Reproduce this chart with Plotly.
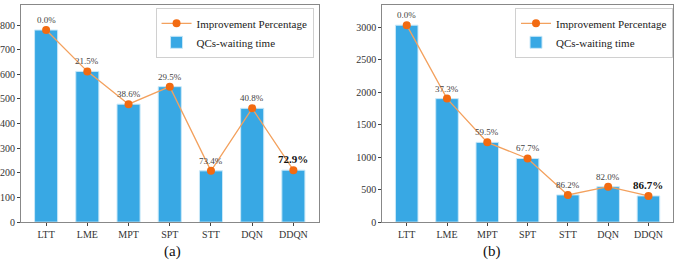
import plotly.graph_objects as go

categories = ["LTT", "LME", "MPT", "SPT", "STT", "DQN", "DDQN"]
wait_a = [780, 612, 479, 550, 208, 462, 211]
pct_a = ["0.0%", "21.5%", "38.6%", "29.5%", "73.4%", "40.8%", "72.9%"]
wait_b = [3030, 1900, 1227, 979, 418, 545, 403]
pct_b = ["0.0%", "37.3%", "59.5%", "67.7%", "86.2%", "82.0%", "86.7%"]
yticks_a = [0, 100, 200, 300, 400, 500, 600, 700, 800]
yticks_b = [0, 500, 1000, 1500, 2000, 2500, 3000]

BAR = "#38a8e4"
LINE = "#f3a15e"
MARK = "#f26b12"
FONT = "Liberation Serif, Times New Roman, serif"
W, H = 685, 278

fig = go.Figure()

panels = [
    ("x", "y", wait_a, pct_a, "legend"),
    ("x2", "y2", wait_b, pct_b, "legend2"),
]
for xa, ya, vals, pct, leg in panels:
    fig.add_trace(go.Scatter(
        x=categories, y=vals, xaxis=xa, yaxis=ya, mode="lines+markers",
        name="Improvement Percentage", legend=leg,
        line=dict(color=LINE, width=1.3),
        marker=dict(color=MARK, size=8),
    ))
    fig.add_trace(go.Bar(
        x=categories, y=vals, xaxis=xa, yaxis=ya, width=0.56,
        name="QCs-waiting time", legend=leg,
        marker=dict(color=BAR, line=dict(color="#c9e8f8", width=1)),
    ))
    for i, (c, v, t) in enumerate(zip(categories, vals, pct)):
        last = i == len(categories) - 1
        fig.add_annotation(
            x=c, y=v, xref=xa, yref=ya, text=f"<b>{t}</b>" if last else t,
            showarrow=False, yanchor="bottom", yshift=3,
            font=dict(family=FONT, size=11 if last else 9,
                      color="#111" if last else "#444"),
        )

def px(v):
    return v / W

ydom = [(H - 227) / H, (H - 5) / H]
axis_common = dict(showline=True, mirror=True, linecolor="#888", linewidth=1,
                   ticks="outside", ticklen=3, tickcolor="#444",
                   tickfont=dict(family=FONT, size=10, color="#333"),
                   showgrid=False, zeroline=False)

legend_common = dict(y=(H - 8) / H, xanchor="right", yanchor="top",
                     bordercolor="#d0d0d0", borderwidth=1, bgcolor="white",
                     font=dict(family=FONT, size=11, color="#222"),
                     tracegroupgap=0, itemwidth=30)

fig.update_layout(
    width=W, height=H, margin=dict(l=0, r=0, t=0, b=0),
    plot_bgcolor="white", paper_bgcolor="white",
    font=dict(family=FONT),
    barmode="overlay",
    xaxis=dict(domain=[px(20), px(318)], anchor="y", range=[-0.61, 6.61], **axis_common),
    yaxis=dict(domain=ydom, anchor="x", range=[0, 882], tickvals=yticks_a, **axis_common),
    xaxis2=dict(domain=[px(381.7), px(673)], anchor="y2", range=[-0.61, 6.61], **axis_common),
    yaxis2=dict(domain=ydom, anchor="x2", range=[0, 3342], tickvals=yticks_b, **axis_common),
    legend=dict(x=px(313), **legend_common),
    legend2=dict(x=px(673), **legend_common),
)

fig.add_annotation(x=px(161), y=(H - 268) / H, xref="paper", yref="paper",
                   text="(a)", showarrow=False, font=dict(family=FONT, size=15, color="#111"))
fig.add_annotation(x=px(503), y=(H - 268) / H, xref="paper", yref="paper",
                   text="(b)", showarrow=False, font=dict(family=FONT, size=15, color="#111"))

fig.write_html("out.html", config={"displayModeBar": False},
               post_script="document.body.style.margin='0';")
